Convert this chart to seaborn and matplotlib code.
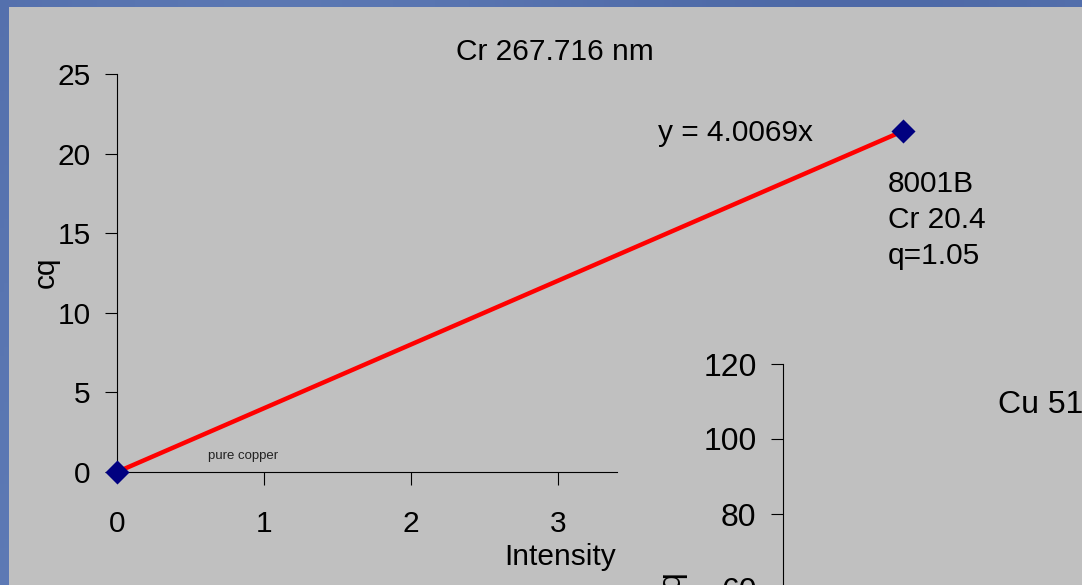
import numpy as np
import pandas as pd
import matplotlib
matplotlib.use("Agg")
import matplotlib.pyplot as plt
from matplotlib.patches import Rectangle
import seaborn as sns

# Calibration data for Cr 267.716 nm
samples = ["pure copper", "8001B"]
intensity = [0.0, 5.346]
cq = [0.0, 21.42]
slope = 4.0069
x_ticks = [0, 1, 2, 3]
y_ticks = [0, 5, 10, 15, 20, 25]
cu_ticks = [60, 80, 100, 120]

sns.set_theme(style="white")
plt.rcParams["font.family"] = ["Liberation Sans", "DejaVu Sans"]

W, H = 1082, 585
fig = plt.figure(figsize=(W / 100, H / 100), dpi=100)

# slide backdrop: blue gradient with a grey panel on top
bg = fig.add_axes([0, 0, 1, 1], zorder=-10)
gx = np.linspace(0, 1, 256)
gy = np.linspace(0, 1, 64)[:, None]
grad = 0.55 + 0.25 * np.sin(gx * 6.0)[None, :] * 0.3 + 0.1 * gy
bg.imshow(grad, aspect="auto", cmap=sns.blend_palette(["#3f5a9a", "#7390c8"], as_cmap=True),
          extent=[0, 1, 0, 1], vmin=0.3, vmax=0.9)
bg.add_patch(Rectangle((9 / W, 0), 1, 1 - 7 / H, transform=bg.transAxes,
                       facecolor="#c0c0c0", edgecolor="none"))
bg.set_xlim(0, 1)
bg.set_ylim(0, 1)
bg.axis("off")


def px_axes(left, top, right, bottom):
    return fig.add_axes([left / W, 1 - bottom / H, (right - left) / W, (bottom - top) / H])


# main calibration chart
ax = px_axes(117, 74, 617, 472)
ax.set_facecolor("none")
df = pd.DataFrame({"Intensity": intensity, "cq": cq, "sample": samples})
fit_x = np.array([0.0, intensity[-1]])
fit = pd.DataFrame({"Intensity": fit_x, "cq": slope * fit_x})
sns.lineplot(data=fit, x="Intensity", y="cq", ax=ax, color="#ff0000", lw=3.2,
             clip_on=False, zorder=3)
sns.scatterplot(data=df, x="Intensity", y="cq", ax=ax, marker="D", s=150,
                color="#000080", edgecolor="#000080", linewidth=0, clip_on=False, zorder=4)

ax.set_xlim(0, 3.4)
ax.set_ylim(0, 25)
ax.set_xticks(x_ticks[1:])
ax.set_yticks(y_ticks)
ax.set_xticklabels([])
for t in x_ticks:
    ax.text(t, -0.095, str(t), transform=ax.get_xaxis_transform(), ha="center", va="top",
            fontsize=21.5, color="black")
ax.tick_params(axis="x", bottom=True, direction="out", length=9, width=0.8, color="black", pad=0)
ax.tick_params(axis="y", left=True, direction="out", length=9, width=0.8, color="black",
               labelsize=21.5, pad=10, labelcolor="black")
for side in ["top", "right"]:
    ax.spines[side].set_visible(False)
for side in ["left", "bottom"]:
    ax.spines[side].set_color("black")
    ax.spines[side].set_linewidth(0.8)
ax.set_xlabel("")
ax.set_ylabel("")

fig.text(555 / W, 1 - 52 / H, "Cr 267.716 nm", ha="center", va="center", fontsize=21.5, color="black")
fig.text(46 / W, 1 - 272 / H, "cq", ha="center", va="center", rotation=90, fontsize=21.5, color="black")
fig.text(560 / W, 1 - 557 / H, "Intensity", ha="center", va="center", fontsize=21.5, color="black")
fig.text(658 / W, 1 - 133 / H, f"y = {slope:.4f}x", ha="left", va="center", fontsize=21.5, color="black")
fig.text(888 / W, 1 - 170 / H, "8001B\nCr 20.4\nq=1.05", ha="left", va="top", fontsize=21.5,
         color="black", linespacing=1.36)
fig.text(243 / W, 1 - 456 / H, samples[0], ha="center", va="center", fontsize=9.5, color="#222222")

# second chart, Cu line, partially in view
ax2 = px_axes(783, 364, 1150, 814)
ax2.set_facecolor("none")
ax2.set_ylim(0, 120)
ax2.set_yticks(cu_ticks)
ax2.set_xticks([])
ax2.tick_params(axis="y", left=True, direction="out", length=9, width=0.8, color="black",
                labelsize=23, pad=10, labelcolor="black")
for side in ["top", "right", "bottom"]:
    ax2.spines[side].set_visible(False)
ax2.spines["left"].set_color("black")
ax2.spines["left"].set_linewidth(0.8)
fig.text(998 / W, 1 - 405 / H, "Cu 510.554 nm", ha="left", va="center", fontsize=23, color="black")
fig.text(672 / W, 1 - 570 / H, "cq", ha="center", va="top", rotation=90, fontsize=23, color="black")

fig.savefig("out.png", dpi=100, facecolor=fig.get_facecolor())
